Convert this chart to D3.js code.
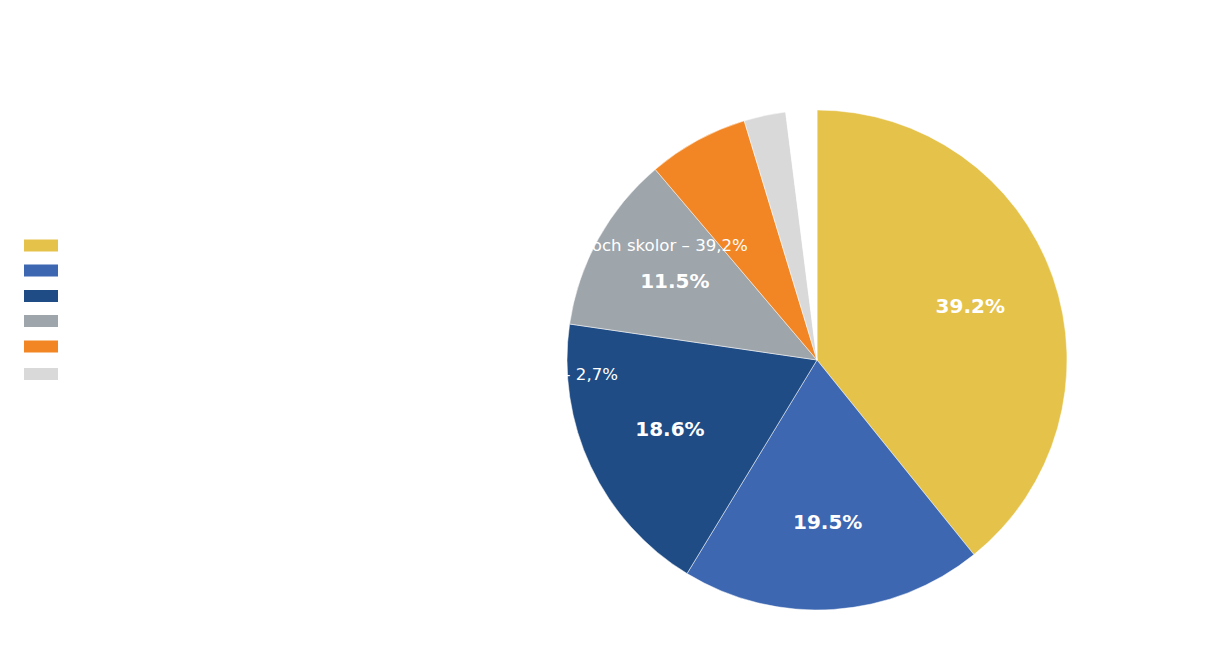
<!DOCTYPE html>
<meta charset="utf-8">
<head>
	<script src="https://d3js.org/d3.v7.min.js"></script>
	<style>
		body { margin: 0; background: #fff; }
		.legend text { font: 16.6px "DejaVu Sans", sans-serif; fill: #fff; }
		.arc text { font: bold 20px "DejaVu Sans", sans-serif; fill: #fff; text-anchor: middle; }
		.arc path { stroke: #fff; stroke-width: 0.5; }
	</style>
</head>
<body>
	<svg id="svg"></svg>
</body>
<script>
	var categories = [
		'Fler praktikplatser och utökat samarbete mellan arbetsgivare och skolor – 39,2%',
		'Mer praktiska inslag i undervisningen i grundskolan – 19,5%',
		'Sänkt ålder för arbetsgivaravgift för lärlingar – 18,6%',
		'Förstärkt studie- och yrkesvägledning i skolan – 11,5%',
		'Höjda löner – 6,5%',
		'Övrigt, t ex bättre förutsättningar och utbildning av lärare – 2,7%',
		'Vet ej'
	];
	var values = [39.2, 19.5, 18.6, 11.5, 6.5, 2.7, 2.0];
	var colors = ['#e5c24a', '#3d67b1', '#1f4c85', '#9ea5ab', '#f28624', '#d9d9d9', '#ffffff'];

	var width = 1218, height = 649;
	var cx = 817, cy = 360, radius = 250;

	var svg = d3.select('#svg')
		.attr('width', width)
		.attr('height', height);

	var data = categories.map((c, i) => ({ name: c, value: values[i], color: colors[i] }));

	// pie, clockwise from 12 o'clock, in data order
	var pie = d3.pie().sort(null).value(d => d.value);
	var arc = d3.arc().innerRadius(0).outerRadius(radius);
	var label = d3.arc().innerRadius(radius * 0.65).outerRadius(radius * 0.65);

	var g = svg.append('g').attr('transform', 'translate(' + cx + ',' + cy + ')');

	var arcs = g.selectAll('.arc')
		.data(pie(data))
		.enter()
		.append('g')
		.attr('class', 'arc');

	arcs.append('path')
		.attr('fill', d => d.data.color)
		.attr('d', arc);

	arcs.filter(d => d.data.value > 10)
		.append('text')
		.attr('transform', d => 'translate(' + label.centroid(d) + ')')
		.attr('dy', '0.35em')
		.text(d => d3.format('.1f')(d.data.value) + '%');

	// legend on the left (white text, drawn after the pie so it runs over it)
	var legendY = [245.5, 270.5, 296, 321, 346.5, 374];
	var legend = svg.append('g').attr('class', 'legend');
	var items = legend.selectAll('g')
		.data(data.slice(0, 6))
		.enter()
		.append('g')
		.attr('transform', (d, i) => 'translate(24,' + legendY[i] + ')');

	items.append('rect')
		.attr('x', 0)
		.attr('y', -6)
		.attr('width', 34)
		.attr('height', 12)
		.attr('fill', d => d.color);

	items.append('text')
		.attr('x', 51)
		.attr('dy', '0.35em')
		.text(d => d.name);
</script>
